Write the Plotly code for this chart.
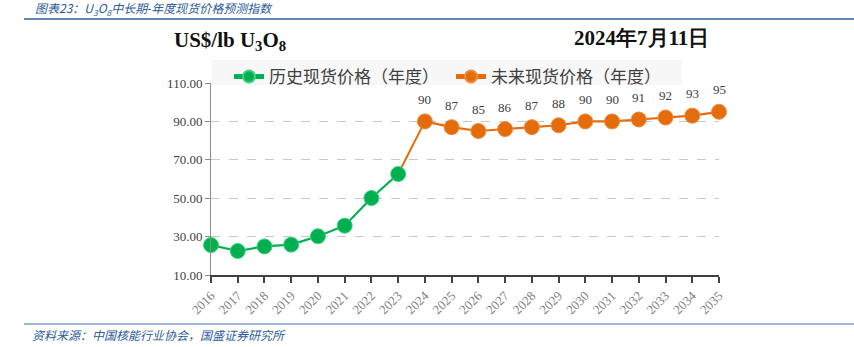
import plotly.graph_objects as go

hist_years = [2016, 2017, 2018, 2019, 2020, 2021, 2022, 2023]
hist_values = [25.6, 22.5, 24.9, 25.8, 30.2, 35.7, 50.1, 62.6]
fut_years = [2024, 2025, 2026, 2027, 2028, 2029, 2030, 2031, 2032, 2033, 2034, 2035]
fut_values = [90, 87, 85, 86, 87, 88, 90, 90, 91, 92, 93, 95]
hist_name = "历史现货价格（年度）"
fut_name = "未来现货价格（年度）"

W, H = 854, 347
L, R, T, B = 211, 719, 83, 275

def px(x):
    return (x - L) / (R - L)

def py(y):
    return (B - y) / (B - T)

GREEN = "#00B050"
ORANGE = "#E46C0A"
SERIF = "Liberation Serif, Times New Roman, serif"
CJK = "Noto Sans CJK SC, sans-serif"

fig = go.Figure()
fig.add_trace(go.Scatter(
    x=[hist_years[-1], fut_years[0]], y=[hist_values[-1], fut_values[0]],
    mode="lines", line=dict(color=ORANGE, width=2), showlegend=False,
    hoverinfo="skip", cliponaxis=False))
fig.add_trace(go.Scatter(
    x=hist_years, y=hist_values, name=hist_name, mode="lines+markers",
    line=dict(color=GREEN, width=2.2),
    marker=dict(color=GREEN, size=15, line=dict(color="#3fd07f", width=1)),
    cliponaxis=False))
fig.add_trace(go.Scatter(
    x=fut_years, y=fut_values, name=fut_name, mode="lines+markers",
    line=dict(color=ORANGE, width=2.2),
    marker=dict(color=ORANGE, size=15, line=dict(color="#f08a3a", width=1)),
    cliponaxis=False))

for xv, yv in zip(fut_years, fut_values):
    fig.add_annotation(x=xv, y=yv, text=str(yv), showarrow=False, yshift=22,
                       font=dict(family=SERIF, size=13, color="#404040"))

def note(x, y, text, font, xanchor="left"):
    fig.add_annotation(xref="paper", yref="paper", x=px(x), y=py(y),
                       xanchor=xanchor, yanchor="middle", text=text,
                       showarrow=False, font=font)

note(33, 9, "<i>图表23：U<sub>3</sub>O<sub>8</sub>中长期<span style='font-family:Liberation Sans'>-</span>年度现货价格预测指数</i>",
     dict(family=CJK, size=12, color="#2E5C9A"))
note(30, 334, "<i>资料来源：中国核能行业协会，国盛证券研究所</i>",
     dict(family=CJK, size=12, color="#2E5C9A"))
note(230, 41, "<b>US$/lb U<sub>3</sub>O<sub>8</sub></b>",
     dict(family=SERIF, size=21, color="#111111"), "center")
note(641, 38, "<b>2024年7月11日</b>",
     dict(family=SERIF, size=21, color="#111111"), "center")

fig.add_shape(type="line", xref="paper", yref="paper", x0=px(24), x1=px(854),
              y0=py(19), y1=py(19), line=dict(color="#2E5C9A", width=1.5))
fig.add_shape(type="line", xref="paper", yref="paper", x0=px(24), x1=px(854),
              y0=py(324), y1=py(324), line=dict(color="#7F9FCF", width=1.5))
fig.add_shape(type="rect", xref="paper", yref="paper", x0=px(212), x1=px(682),
              y0=py(85), y1=py(60), fillcolor="#f7f7f7", line=dict(width=0),
              layer="below")

fig.update_layout(
    width=W, height=H,
    margin=dict(l=L, r=W - R, t=T, b=H - B, pad=0),
    paper_bgcolor="white", plot_bgcolor="rgba(0,0,0,0)",
    legend=dict(orientation="h", x=px(229), y=py(59), xanchor="left", yanchor="top",
                bgcolor="rgba(0,0,0,0)", font=dict(family=CJK, size=17, color="#404040"),
                entrywidth=177, entrywidthmode="pixels", itemwidth=30,
                itemsizing="constant", traceorder="normal"),
    xaxis=dict(range=[2016, 2035], tickmode="linear", dtick=1, tickangle=-45,
               showline=True, linecolor="#404040", linewidth=2,
               ticks="outside", ticklen=6, tickwidth=1.5, tickcolor="#404040",
               showgrid=False, zeroline=False,
               tickfont=dict(family=SERIF, size=13, color="#7f7f7f")),
    yaxis=dict(range=[10, 110], tickmode="linear", dtick=20, tick0=10,
               tickformat=".2f", showline=True, linecolor="#8c8c8c", linewidth=1,
               ticks="outside", ticklen=5, tickcolor="#8c8c8c",
               showgrid=True, gridcolor="#c8c8c8", griddash="dash", gridwidth=1,
               zeroline=False,
               tickfont=dict(family=SERIF, size=13, color="#404040")),
)

fig.write_html("out.html")
